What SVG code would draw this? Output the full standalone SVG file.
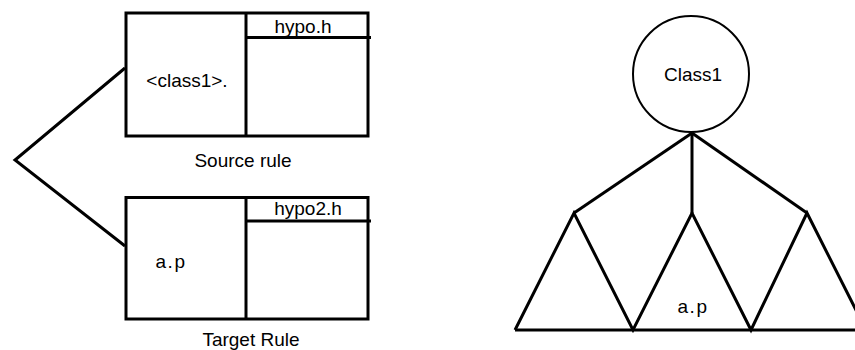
<svg xmlns="http://www.w3.org/2000/svg" width="855" height="350" viewBox="0 0 855 350">
<style>
.ln{fill:none;stroke:#000;stroke-width:3;stroke-linecap:butt;stroke-linejoin:miter}
.cir{fill:#fff;stroke:#000;stroke-width:2}
.t{font-family:"Liberation Sans",Arial,sans-serif;font-size:19px;fill:#000;text-anchor:middle}
.sp{letter-spacing:1.5px}
</style>
<rect width="855" height="350" fill="#fff"/>
<g id="connectors">
<polyline class="ln" points="125,68 15,160 125,246"/>
<line class="ln" x1="692" y1="133" x2="574" y2="213"/>
<line class="ln" x1="692" y1="133" x2="692" y2="213"/>
<line class="ln" x1="692" y1="133" x2="807" y2="213"/>
</g>
<g id="source-rule">
<rect class="ln" x="126" y="13" width="242" height="123"/>
<line class="ln" x1="246" y1="13" x2="246" y2="137"/>
<line class="ln" x1="246" y1="37.5" x2="371" y2="37.5"/>
<text class="t" x="303" y="33">hypo.h</text>
<text class="t" x="187" y="87">&lt;class1&gt;.</text>
<text class="t" x="243" y="167">Source rule</text>
</g>
<g id="target-rule">
<rect class="ln" x="126" y="197.5" width="242" height="121.5"/>
<line class="ln" x1="246" y1="197.5" x2="246" y2="320"/>
<line class="ln" x1="246" y1="221" x2="371" y2="221"/>
<text class="t" x="308" y="215">hypo2.h</text>
<text class="t sp" x="171" y="268">a.p</text>
<text class="t" x="251" y="346">Target Rule</text>
</g>
<g id="class1">
<circle class="cir" cx="691" cy="74" r="58"/>
<text class="t" x="693" y="81">Class1</text>
</g>
<g id="tree">
<polyline class="ln" points="515,330 574,213 633,330 692,213 751,330 807,213 866,330"/>
<line class="ln" x1="515" y1="330" x2="856" y2="330"/>
<text class="t sp" x="693" y="313">a.p</text>
</g>
</svg>
